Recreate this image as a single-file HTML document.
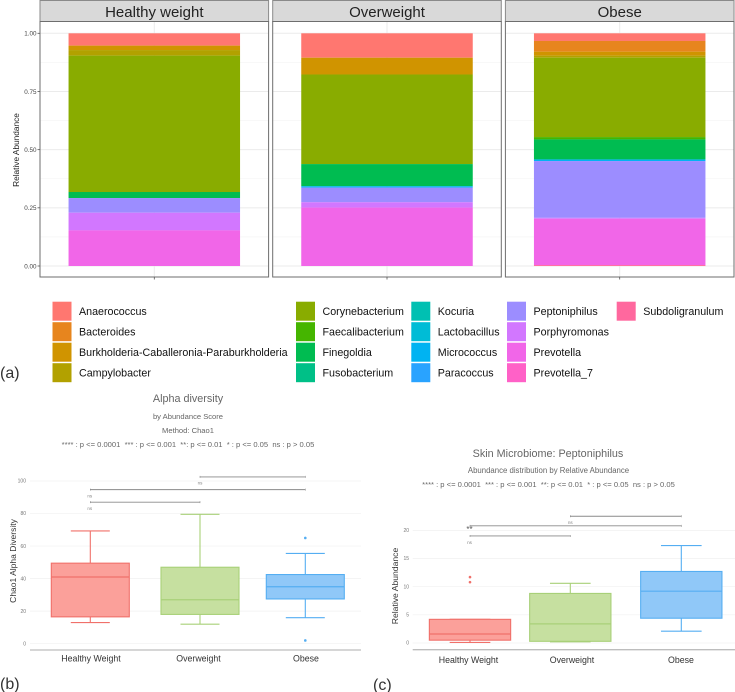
<!DOCTYPE html>
<html lang="en">
<head>
<meta charset="utf-8">
<title>Skin microbiome composition and diversity</title>
<style>
html,body{margin:0;padding:0;background:#fff;}
svg{display:block;font-family:"Liberation Sans",sans-serif;}
</style>
</head>
<body>
<svg id="figure" width="735" height="692" viewBox="0 0 735 692" xmlns="http://www.w3.org/2000/svg">
  <g id="panel-a"></g>
  <g id="legend"></g>
  <text x="0" y="378" font-size="16" fill="#333">(a)</text>

  <g id="panel-b" style="filter:blur(.25px)">
    <text x="188" y="402" font-size="10.8" fill="#666" text-anchor="middle">Alpha diversity</text>
    <text x="188" y="419" font-size="7.6" fill="#666" text-anchor="middle">by Abundance Score</text>
    <text x="188" y="433" font-size="7.6" fill="#666" text-anchor="middle">Method: Chao1</text>
    <text x="188" y="447" font-size="7.6" fill="#666" text-anchor="middle">**** : p &lt;= 0.0001&#160; *** : p &lt;= 0.001&#160; **: p &lt;= 0.01&#160; * : p &lt;= 0.05&#160; ns : p &gt; 0.05</text>
    <text transform="translate(16 561) rotate(-90)" font-size="8.5" fill="#333" text-anchor="middle">Chao1 Alpha Diversity</text>
  </g>
  <text x="0" y="689" font-size="16" fill="#333">(b)</text>

  <g id="panel-c" style="filter:blur(.25px)">
    <text x="548" y="457" font-size="10.8" fill="#666" text-anchor="middle">Skin Microbiome: Peptoniphilus</text>
    <text x="548.5" y="473" font-size="7.8" fill="#666" text-anchor="middle">Abundance distribution by Relative Abundance</text>
    <text x="548.5" y="487" font-size="7.6" fill="#666" text-anchor="middle">**** : p &lt;= 0.0001&#160; *** : p &lt;= 0.001&#160; **: p &lt;= 0.01&#160; * : p &lt;= 0.05&#160; ns : p &gt; 0.05</text>
    <text transform="translate(398 586) rotate(-90)" font-size="8.6" fill="#333" text-anchor="middle">Relative Abundance</text>
  </g>
  <text x="373" y="690" font-size="16" fill="#333">(c)</text>
</svg>
<script>
// ---------- Panel (a) data ----------
const genera = ["Anaerococcus","Bacteroides","Burkholderia-Caballeronia-Paraburkholderia","Campylobacter","Corynebacterium","Faecalibacterium","Finegoldia","Fusobacterium","Kocuria","Lactobacillus","Micrococcus","Paracoccus","Peptoniphilus","Porphyromonas","Prevotella","Prevotella_7","Subdoligranulum"];
const generaColors = ["#FF7770","#E7851E","#D09400","#B2A100","#89AC00","#45B500","#00BC51","#00C087","#00C0B2","#00BCD6","#00B3F2","#29A3FF","#9C8DFF","#D277FF","#F166E8","#FF61C7","#FF689E"];
const stackGroups = ["Healthy weight","Overweight","Obese"];
const healthyShares = [0.053,0,0.019,0.024,0.586,0,0.026,0,0,0,0,0,0.063,0.076,0.153,0,0];
const overweightShares = [0.105,0,0.072,0,0.385,0,0.095,0,0,0,0.006,0,0.063,0.023,0.251,0,0];
const obeseShares = [0.033,0.046,0.017,0.009,0.341,0.010,0.086,0,0,0,0.007,0,0.244,0.004,0.199,0,0.004];
const stackTicks = [0,0.25,0.5,0.75,1];
const stackMinorTicks = [0.125,0.375,0.625,0.875];

// ---------- Panel (b) data ----------
const boxCategories = ["Healthy Weight","Overweight","Obese"];
const alphaLow = [13,12,16];
const alphaQ1 = [16.5,18,27.5];
const alphaMedian = [41,27,35];
const alphaQ3 = [49.5,47,42.5];
const alphaHigh = [69.3,79.5,55.5];
const alphaOutliers = [[],[],[65,2]];
const alphaTicks = [0,20,40,60,80,100];
const alphaBracketFrom = [1,0,0];
const alphaBracketTo = [2,2,1];
const alphaBracketLevel = [102.5,94.7,87];
const alphaBracketLabel = ["ns","ns","ns"];

// ---------- Panel (c) data ----------
const peptoLow = [0.1,0.2,2.1];
const peptoQ1 = [0.5,0.3,4.4];
const peptoMedian = [1.6,3.4,9.2];
const peptoQ3 = [4.2,8.8,12.7];
const peptoHigh = [4.2,10.6,17.3];
const peptoOutliers = [[11.7,10.8],[],[]];
const peptoTicks = [0,5,10,15,20];
const peptoBracketFrom = [1,0,0];
const peptoBracketTo = [2,2,1];
const peptoBracketLevel = [22.5,20.8,19];
const peptoBracketLabel = ["ns","**","ns"];

const NS = "http://www.w3.org/2000/svg";
function make(parent, tag, attrs, text) {
  const el = document.createElementNS(NS, tag);
  for (const k in attrs) el.setAttribute(k, attrs[k]);
  if (text !== undefined) el.textContent = text;
  parent.appendChild(el);
  return el;
}
function slug(s) { return s.toLowerCase().replace(/[^a-z0-9]+/g, "-").replace(/^-|-$/g, ""); }

// ---------- Draw panel (a) ----------
const panelA = document.getElementById("panel-a");
const stackY = v => 266 - v * 232.7;
const facetLeft = i => 40 + i * 232.7;
const facetWidth = 228.6;
const facetPlotTop = 21.5, facetPlotBottom = 277;
const stackSeries = [healthyShares, overweightShares, obeseShares];

stackGroups.forEach((group, i) => {
  const left = facetLeft(i);
  const cx = left + facetWidth / 2;
  const barW = 171.5;
  const groupSlug = slug(group);

  const strip = make(panelA, "rect", {x:left, y:0.5, width:facetWidth, height:facetPlotTop - 0.5, fill:"#d9d9d9", stroke:"#8a8a8a", "stroke-width":1});
  
  

  const stripText = make(panelA, "text", {x:cx, y:17, "font-size":15, fill:"#222", "text-anchor":"middle"}, group);
  
  

  stackMinorTicks.forEach(t => {
    const minor = make(panelA, "line", {x1:left, x2:left + facetWidth, y1:stackY(t), y2:stackY(t), stroke:"#f3f3f3", "stroke-width":0.6});
    
    
  });
  stackTicks.forEach(t => {
    const major = make(panelA, "line", {x1:left, x2:left + facetWidth, y1:stackY(t), y2:stackY(t), stroke:"#ebebeb", "stroke-width":1});
    
    
  });
  const vGrid = make(panelA, "line", {x1:cx, x2:cx, y1:facetPlotTop, y2:facetPlotBottom, stroke:"#ebebeb", "stroke-width":1});
  
  

  const values = stackSeries[i];
  let cum = values.reduce((a, b) => a + b, 0);
  values.forEach((v, g) => {
    if (v > 0) {
      const seg = make(panelA, "rect", {x:cx - barW / 2, y:stackY(cum), width:barW, height:stackY(cum - v) - stackY(cum), fill:generaColors[g]});
      
      
    }
    cum -= v;
  });

  const frame = make(panelA, "rect", {x:left, y:facetPlotTop, width:facetWidth, height:facetPlotBottom - facetPlotTop, fill:"none", stroke:"#6e6e6e", "stroke-width":1});
  
  

  const xTick = make(panelA, "line", {x1:cx, x2:cx, y1:facetPlotBottom, y2:facetPlotBottom + 2.5, stroke:"#555", "stroke-width":0.8});
  
  
});

stackTicks.forEach(t => {
  const mark = make(panelA, "line", {x1:37.5, x2:40, y1:stackY(t), y2:stackY(t), stroke:"#555", "stroke-width":0.8});
  
  
  const label = make(panelA, "text", {x:36.5, y:stackY(t) + 2.3, "font-size":6.3, fill:"#444", "text-anchor":"end"}, t.toFixed(2));
  
  
});
const aTitle = make(panelA, "text", {transform:"translate(19 150) rotate(-90)", "font-size":8.3, fill:"#222", "text-anchor":"middle"}, "Relative Abundance");



// ---------- Draw legend ----------
const legend = document.getElementById("legend");
const legendColumn = i => i < 4 ? 0 : i < 8 ? 1 : i < 12 ? 2 : i < 16 ? 3 : 4;
const legendSwatchX = c => c === 0 ? 52.5 : c === 1 ? 296 : c === 2 ? 411.3 : c === 3 ? 507 : 616.7;
genera.forEach((name, i) => {
  const col = legendColumn(i);
  const row = i % 4;
  const y = 301.7 + row * 20.5;
  const sw = make(legend, "rect", {x:legendSwatchX(col), y:y, width:19, height:19, fill:generaColors[i]});
  
  
  const tx = make(legend, "text", {x:legendSwatchX(col) + 26.5, y:y + 13.2, "font-size":10.7, fill:"#111"}, name);
  
  
});

// ---------- Draw boxplots ----------
const boxFill = ["#FBA09A","#C6E0A0","#90C8F8"];
const boxStroke = ["#F0706A","#A8D078","#55AEF2"];

function drawBoxplot(root, prefix, cfg) {
  const y = cfg.y, x = cfg.x;
  cfg.ticks.forEach(t => {
    const grid = make(root, "line", {x1:cfg.left, x2:cfg.right, y1:y(t), y2:y(t), stroke:"#f0f0f0", "stroke-width":0.7});
    
    
    const label = make(root, "text", {x:cfg.tickX, y:y(t) + 1.7, "font-size":5, fill:"#777", "text-anchor":"end"}, String(t));
    
    
  });
  const axis = make(root, "line", {x1:cfg.left, x2:cfg.right, y1:cfg.axisY, y2:cfg.axisY, stroke:"#bdbdbd", "stroke-width":1.3});
  
  

  boxCategories.forEach((cat, i) => {
    const cx = x(i), catSlug = slug(cat), color = boxStroke[i];
    const hw = cfg.boxWidth / 2, cap = hw / 2;
    const whiskerHigh = make(root, "line", {x1:cx, x2:cx, y1:y(cfg.high[i]), y2:y(cfg.q3[i]), stroke:color, "stroke-width":1.1});
    
    
    const capHigh = make(root, "line", {x1:cx - cap, x2:cx + cap, y1:y(cfg.high[i]), y2:y(cfg.high[i]), stroke:color, "stroke-width":1.1});
    
    
    const whiskerLow = make(root, "line", {x1:cx, x2:cx, y1:y(cfg.q1[i]), y2:y(cfg.low[i]), stroke:color, "stroke-width":1.1});
    
    
    const capLow = make(root, "line", {x1:cx - cap, x2:cx + cap, y1:y(cfg.low[i]), y2:y(cfg.low[i]), stroke:color, "stroke-width":1.1});
    
    
    const box = make(root, "rect", {x:cx - hw, y:y(cfg.q3[i]), width:cfg.boxWidth, height:y(cfg.q1[i]) - y(cfg.q3[i]), fill:boxFill[i], stroke:color, "stroke-width":1.1});
    
    
    const median = make(root, "line", {x1:cx - hw, x2:cx + hw, y1:y(cfg.median[i]), y2:y(cfg.median[i]), stroke:color, "stroke-width":1.2});
    
    
    cfg.outliers[i].forEach(v => {
      const dot = make(root, "circle", {cx:cx, cy:y(v), r:1.3, fill:color});
      
      
    });
    const label = make(root, "text", {x:cfg.labelX(i), y:cfg.labelY, "font-size":8.8, fill:"#333", "text-anchor":"middle"}, cat);
    
    
  });

  cfg.bracketLevel.forEach((lvl, b) => {
    const x1 = x(cfg.bracketFrom[b]), x2 = x(cfg.bracketTo[b]), by = y(lvl);
    const bar = make(root, "line", {x1:x1, x2:x2, y1:by, y2:by, stroke:"#8a8a8a", "stroke-width":0.9});
    
    
    const tipA = make(root, "line", {x1:x1, x2:x1, y1:by - 1, y2:by + 1, stroke:"#8a8a8a", "stroke-width":0.6});
    
    
    const tipB = make(root, "line", {x1:x2, x2:x2, y1:by - 1, y2:by + 1, stroke:"#8a8a8a", "stroke-width":0.6});
    
    
    const isStars = cfg.bracketLabel[b] !== "ns";
    const tag = make(root, "text", {x:x1 + (cfg.bracketFrom[b] === 1 ? 0 : -0.5), y:by + (isStars ? 6 : 7.8), "font-size":isStars ? 8 : 4.6, fill:isStars ? "#555" : "#888", "text-anchor":"middle"}, cfg.bracketLabel[b]);
    
    
  });
}

drawBoxplot(document.getElementById("panel-b"), "alpha", {
  y: v => 643.7 - v * 1.627,
  x: i => i === 0 ? 90.3 : i === 1 ? 200 : 305.3,
  labelX: i => i === 0 ? 91 : i === 1 ? 198.5 : 306,
  labelY: 661.5, left: 30, right: 361, axisY: 650, tickX: 26, boxWidth: 78,
  ticks: alphaTicks, low: alphaLow, q1: alphaQ1, median: alphaMedian, q3: alphaQ3, high: alphaHigh, outliers: alphaOutliers,
  bracketFrom: alphaBracketFrom, bracketTo: alphaBracketTo, bracketLevel: alphaBracketLevel, bracketLabel: alphaBracketLabel
});

drawBoxplot(document.getElementById("panel-c"), "peptoniphilus", {
  y: v => 643 - v * 5.633,
  x: i => i === 0 ? 470 : i === 1 ? 570.3 : 681.3,
  labelX: i => i === 0 ? 468.5 : i === 1 ? 572 : 681,
  labelY: 663, left: 412.7, right: 735, axisY: 649.7, tickX: 409, boxWidth: 81.3,
  ticks: peptoTicks, low: peptoLow, q1: peptoQ1, median: peptoMedian, q3: peptoQ3, high: peptoHigh, outliers: peptoOutliers,
  bracketFrom: peptoBracketFrom, bracketTo: peptoBracketTo, bracketLevel: peptoBracketLevel, bracketLabel: peptoBracketLabel
});
</script>
</body>
</html>
